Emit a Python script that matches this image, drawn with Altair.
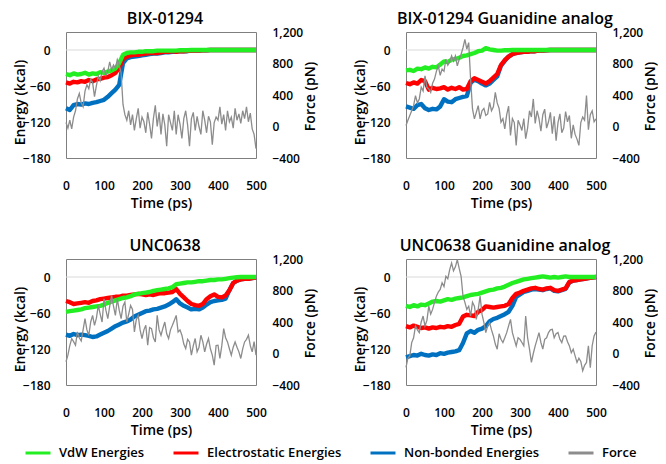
import altair as alt
import pandas as pd

FONT = "Open Sans"

TITLES = ["BIX-01294", "BIX-01294 Guanidine analog", "UNC0638", "UNC0638 Guanidine analog"]
SERIES = ["VdW Energies", "Electrostatic Energies", "Non-bonded Energies", "Force"]
COLORS = ["#22EE22", "#FF0000", "#0070C0", "#8C8C8C"]

TIME_E = list(range(0, 501, 10))
TIME_F = list(range(0, 501, 5))
X_TICKS = [0, 100, 200, 300, 400, 500]
E_TICKS = [-180, -120, -60, 0]
F_TICKS = [-400, 0, 400, 800, 1200]

# ---- BIX-01294 ----
VDW_1 = [-40, -42, -39, -41, -40, -38, -41, -39, -40, -37, -38, -36, -34, -31, -22, -8, -5, -4, -4, -3,
         -3, -2, -2, -2, -1, -1, -1, -1, -1, -1, -0.5, -0.5, -0.5, 0, 0, 0, 0, 0, 0, 0,
         0, 0, 0, 0, 0, 0, 0, 0, 0, 0, 0]
ELEC_1 = [-54, -56, -53, -54, -52, -53, -50, -52, -49, -48, -46, -45, -42, -38, -30, -15, -11, -9, -8, -8,
          -7, -6, -5, -5, -5, -4, -3, -3, -2, -3, -2, -2, -1.5, -1, -1, -1, -0.5, -0.5, 0, 0,
          0, 0, 0, 0, 0, 0, 0, 0, 0, 0, 0]
NB_1 = [-97, -100, -92, -90, -91, -89, -90, -88, -87, -85, -83, -78, -72, -66, -58, -22, -14, -12, -11, -10,
        -9, -8, -7, -6, -6, -5, -4, -4, -3, -3, -2, -2, -2, -1, -1, -1, -0.5, -0.5, 0, 0,
        0, 0, 0, 0, 0, 0, 0, 0, 0, 0, 0]
FORCE_1 = [50, -20, 80, -30, 120, 200, 350, 420, 300, 250,
           450, 530, 480, 600, 560, 380, 520, 640, 580, 700,
           740, 650, 700, 820, 720, 780, 740, 850, 780, 680,
           280, 150, 80, 200, 20, 150, -50, 100, 230, -20,
           120, 60, -80, 180, 30, -150, 100, 270, 0, 180,
           -100, 160, 20, -250, 150, 50, -50, 200, -100, 150,
           30, -150, 100, 200, 20, -250, 100, 180, -50, 130,
           0, -100, 200, 80, -80, 130, 60, -230, 50, 120,
           80, 250, 30, 150, -50, 200, 60, 120, -20, 230,
           80, 160, 40, 200, 100, 250, 60, 170, -30, -100,
           -280]

# ---- BIX-01294 Guanidine analog ----
VDW_2 = [-34, -33, -35, -31, -32, -29, -31, -28, -29, -24, -19, -20, -16, -15, -13, -10, -9, -7, -5, -2,
         -1, 3, 1, 0, -1, -1, -0.5, -0.5, 0, 0, 0, 0, 0, 0, 0, 0, 0, 0, 0, 0,
         0, 0, 0, 0, 0, 0, 0, 0, 0, 0, 0]
ELEC_2 = [-55, -57, -54, -56, -50, -52, -66, -63, -65, -64, -62, -66, -63, -65, -62, -66, -65, -52, -47, -50,
          -53, -56, -52, -46, -40, -25, -17, -11, -7, -5, -4, -3, -3, -2, -2, -1, -1, -0.5, 0, 0,
          0, 0, 0, 0, 0, 0, 0, 0, 0, 0, 0]
NB_2 = [-94, -96, -98, -92, -90, -97, -100, -98, -99, -94, -82, -86, -87, -82, -80, -78, -77, -55, -49, -52,
        -56, -59, -56, -50, -44, -26, -18, -11, -7, -5, -4, -3, -3, -2, -2, -1, -1, -0.5, 0, 0,
        0, 0, 0, 0, 0, 0, 0, 0, 0, 0, 0]
FORCE_2 = [13, 80, 139, 200, 265, 392, 300, 350, 500, 450,
           644, 500, 476, 434, 550, 602, 700, 770, 650, 728,
           700, 855, 780, 820, 897, 830, 897, 770, 850, 918,
           1000, 1107, 981, 1065, 602, 223, 97, 180, 265, 97,
           200, 230, 140, 160, 307, 200, 250, 434, 300, 230,
           55, 100, -30, 150, 260, -113, 100, 50, -240, 80,
           20, -50, 100, -155, -20, 200, 120, 350, 40, 200,
           100, -60, 150, 220, -20, 60, 180, -90, 130, -180,
           50, 160, -80, -20, 190, 60, 140, -150, 20, -100,
           -160, -240, 50, 120, 80, 392, -40, 150, 200, 60,
           97]

# ---- UNC0638 ----
VDW_3 = [-58, -57, -56, -55, -54, -52, -51, -50, -49, -48, -46, -43, -41, -39, -37, -35, -34, -32, -29, -28,
         -27, -26, -25, -23, -22, -21, -20, -19, -17, -12, -11, -10, -9, -9, -8, -7, -7, -6, -5, -5,
         -4, -4, -3, -2, -1, -0.5, 0, 0, 0, 0, 0]
ELEC_3 = [-40, -42, -45, -44, -43, -42, -43, -40, -39, -37, -36, -35, -34, -33, -33, -31, -31, -30, -29, -28,
          -29, -30, -29, -30, -28, -27, -27, -26, -25, -20, -28, -34, -40, -45, -47, -48, -45, -37, -32, -29,
          -33, -34, -31, -22, -10, -6, -4, -3, -3, -2, -1]
NB_3 = [-96, -98, -95, -97, -96, -97, -98, -100, -99, -96, -93, -90, -86, -82, -79, -76, -74, -71, -66, -63,
        -60, -57, -56, -54, -53, -51, -49, -46, -42, -37, -44, -48, -51, -54, -53, -54, -51, -46, -42, -40,
        -39, -38, -36, -22, -10, -6, -4, -3, -3, -2, -1]
FORCE_3 = [-105, -21, 100, 190, 150, 105, 274, 200, 160, 300,
           442, 300, 232, 400, 484, 358, 450, 610, 500, 400,
           695, 550, 442, 600, 737, 600, 484, 695, 550, 442,
           600, 653, 400, 500, 610, 560, 274, 430, 484, 300,
           190, 300, 358, 105, 330, 316, 200, 147, 484, 300,
           232, 320, 400, 250, 190, 300, 358, 420, 484, 274,
           300, 232, 120, 63, 180, 147, -21, 100, 190, 21,
           80, 232, 150, 21, 120, 190, 60, -21, -147, 100,
           105, -63, 100, 316, 200, 147, 60, -21, 80, 147,
           80, 21, -63, 60, 147, 180, 232, 100, 21, 150,
           -21]

# ---- UNC0638 Guanidine analog ----
VDW_4 = [-48, -50, -47, -49, -46, -47, -44, -41, -40, -41, -39, -37, -38, -36, -35, -34, -32, -30, -29, -28,
         -26, -24, -22, -21, -19, -18, -16, -13, -10, -8, -6, -4, -3, -2, -1, 0, 1, 0, -1, 0,
         -1, 0, 1, 0, 0, 0, 0, 0, 0, 0, 0]
ELEC_4 = [-82, -84, -81, -83, -85, -84, -86, -84, -85, -83, -84, -82, -83, -80, -78, -66, -63, -64, -65, -58,
          -55, -49, -50, -51, -50, -49, -48, -45, -35, -28, -26, -23, -21, -19, -18, -20, -21, -19, -18, -22,
          -23, -21, -19, -8, -6, -5, -4, -3, -2, -1, 0]
NB_4 = [-134, -132, -130, -131, -128, -130, -131, -129, -130, -127, -128, -126, -125, -124, -122, -110, -94, -90, -93, -88,
        -86, -82, -74, -70, -68, -65, -62, -58, -48, -33, -29, -25, -23, -21, -20, -21, -22, -20, -19, -23,
        -24, -22, -20, -9, -6, -5, -4, -3, -2, -1, 0]
FORCE_4 = [-177, -60, -30, 139, 200, 350, 300, 265, 400, 476,
           350, 420, 602, 500, 560, 650, 728, 780, 813, 897,
           850, 981, 950, 1065, 1149, 1050, 1100, 1191, 1080, 981,
           728, 650, 560, 600, 476, 650, 600, 434, 560, 728,
           500, 392, 265, 350, 392, 300, 223, 120, 55, 250,
           180, 139, 200, 265, 350, 434, 265, 180, 97, 200,
           180, 140, 97, 476, 200, 55, -113, 0, 97, 180,
           265, 140, 55, 180, 200, 265, 300, 307, 200, 250,
           265, 180, 139, 220, 223, 150, 97, 10, 55, -30,
           -113, -60, -100, -220, -150, -113, 97, -180, 100, 223,
           274]

W, H = 190, 126
color_scale = alt.Scale(domain=SERIES, range=COLORS)
legend = alt.Legend(orient="none", legendX=-42, legendY=407, title=None)


def panel(title, vdw, elec, nb, force):
    x_enc = alt.X("t:Q", scale=alt.Scale(domain=[0, 500], nice=False),
                  axis=alt.Axis(values=X_TICKS, title="Time (ps)", labelPadding=22,
                                titleX=W / 2, titleY=45, titleBaseline="middle"))
    e_scale = alt.Scale(domain=[-180, 30], nice=False)
    e_axis = alt.Axis(values=E_TICKS, title="Energy (kcal)", orient="left", labelPadding=16,
                      titleX=-46, titleY=70, titleBaseline="middle", titleAngle=270)
    col = alt.Color("s:N", scale=color_scale, legend=legend)

    zero = alt.Chart(pd.DataFrame({"v": [0]})).mark_rule(color="#D9D9D9", strokeWidth=1.2).encode(
        y=alt.Y("v:Q", scale=e_scale, axis=e_axis))

    def eline(vals, name):
        df = pd.DataFrame({"t": TIME_E, "v": vals, "s": name})
        return alt.Chart(df).mark_line(strokeWidth=4.4, strokeJoin="round").encode(
            x=x_enc, y=alt.Y("v:Q", scale=e_scale, axis=e_axis), color=col)

    energy = alt.layer(zero, eline(nb, SERIES[2]), eline(elec, SERIES[1]), eline(vdw, SERIES[0]))

    fdf = pd.DataFrame({"t": TIME_F, "f": force, "s": SERIES[3]})
    fline = alt.Chart(fdf).mark_line(strokeWidth=1.3).encode(
        x=x_enc,
        y=alt.Y("f:Q", scale=alt.Scale(domain=[-400, 1200], nice=False),
                axis=alt.Axis(values=F_TICKS, format=",.0f", title="Force (pN)", orient="right",
                              labelPadding=16, titleX=54, titleY=64, titleBaseline="middle",
                              titleAngle=270)),
        color=col)

    return alt.layer(energy, fline).resolve_scale(y="independent").properties(
        width=W, height=H,
        title=alt.TitleParams(title, fontSize=16, font=FONT, fontWeight=600, anchor="middle",
                              frame="bounds", offset=-1, color="#000000"))


p1 = panel(TITLES[0], VDW_1, ELEC_1, NB_1, FORCE_1)
p2 = panel(TITLES[1], VDW_2, ELEC_2, NB_2, FORCE_2)
p3 = panel(TITLES[2], VDW_3, ELEC_3, NB_3, FORCE_3)
p4 = panel(TITLES[3], VDW_4, ELEC_4, NB_4, FORCE_4)

chart = alt.vconcat(
    alt.hconcat(p1, p2, spacing=34),
    alt.hconcat(p3, p4, spacing=34),
    spacing=26,
).properties(
    padding={"left": 4, "top": 2, "right": 0, "bottom": 0}
).configure_axis(
    labelFont=FONT, labelFontSize=12, labelFontWeight=600, labelColor="#000000",
    titleFont=FONT, titleFontSize=14, titleFontWeight=600, titleColor="#000000",
    ticks=False, domain=False, grid=False, labelFlush=False, labelOverlap=False,
).configure_view(
    stroke="#7F7F7F", strokeWidth=1,
).configure_legend(
    direction="horizontal", symbolType="stroke", symbolSize=625,
    symbolStrokeWidth=3, labelFont=FONT, labelFontSize=13, labelFontWeight=600,
    labelColor="#000000", columnPadding=22, labelOffset=7,
)

chart.save("out.html", embed_options={"renderer": "svg", "actions": False})
